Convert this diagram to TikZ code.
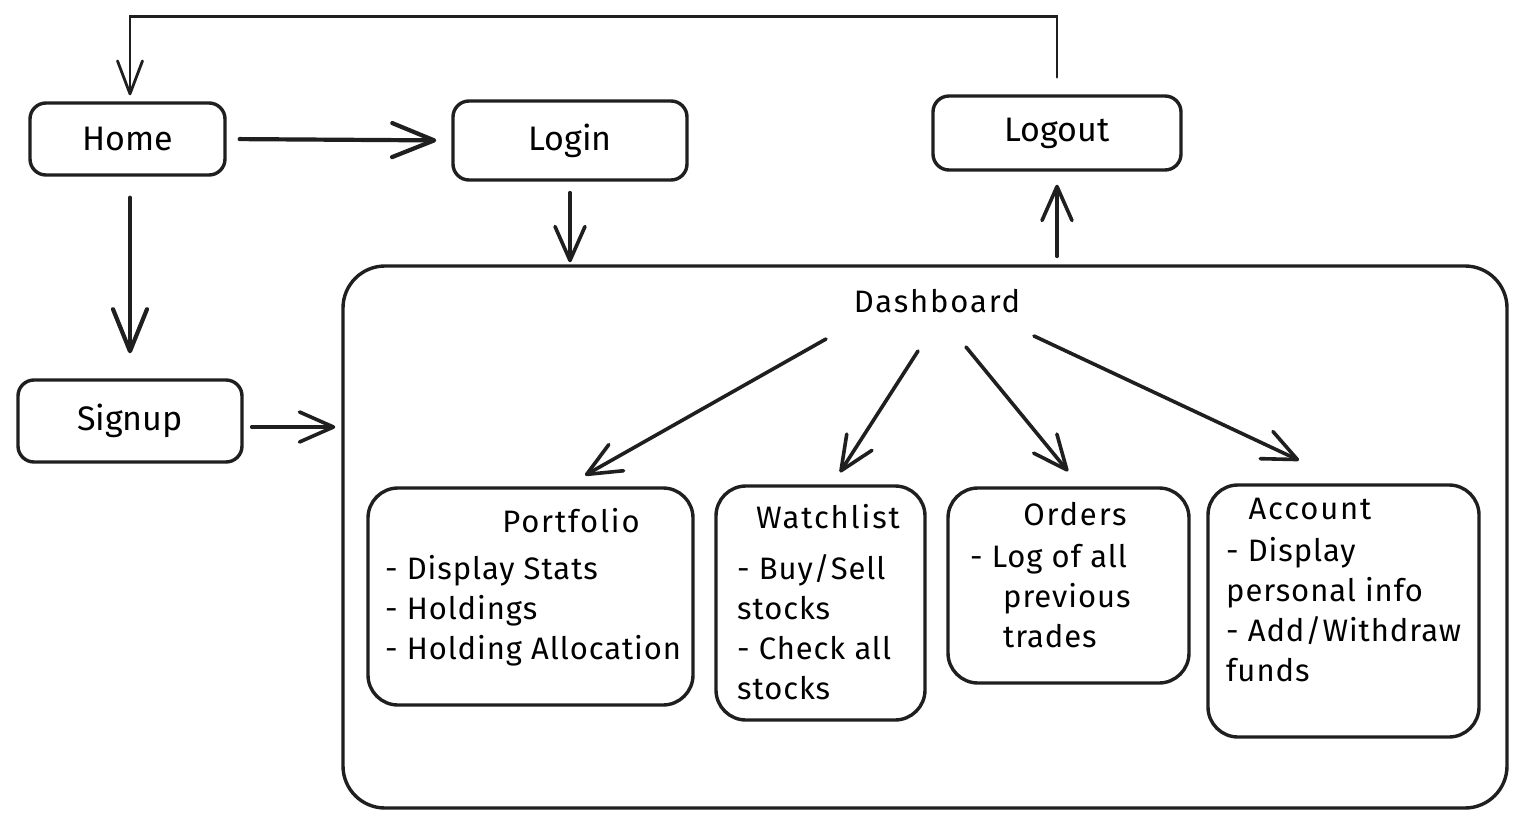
\documentclass[tikz,border=0pt]{standalone}
\usepackage{fontspec}
\setmainfont{Fira Sans}
\newfontfamily\widefont{Fira Sans}[LetterSpace=6]
\newfontfamily\bodyfont{Fira Sans}[LetterSpace=3]
\usetikzlibrary{arrows.meta,calc}
\begin{document}
\begin{tikzpicture}[x=1pt,y=-1pt,
  ink/.style={draw=black!88},
  box/.style={ink, line width=3.4pt, rounded corners=16pt, inner sep=0pt,
    font=\fontsize{34}{40}\selectfont},
  subbox/.style={ink, line width=3.4pt, rounded corners=30pt, inner sep=0pt},
  bigbox/.style={ink, line width=3.4pt, rounded corners=42pt, inner sep=0pt},
  title/.style={inner sep=0pt, font=\widefont\fontsize{31}{36}\selectfont},
  body/.style={inner sep=0pt, align=left, anchor=west, font=\bodyfont\fontsize{31}{40}\selectfont},
  arr/.style={ink, line width=4.2pt, line cap=round,
    -{Straight Barb[length=42pt,width=34pt,line width=4.2pt,round]}},
  sarr/.style={ink, line width=3.6pt, line cap=round,
    -{Straight Barb[length=34pt,width=30pt,line width=3.6pt,round]}},
  thin/.style={ink, line width=2.8pt, line cap=round,
    -{Straight Barb[length=33pt,width=25pt,line width=2.8pt,round]}}]
\useasboundingbox (0,0) rectangle (1526,827);
\fill[white] (0,0) rectangle (1526,827);

% top-level nodes
\node[box, minimum width=195pt, minimum height=72pt] (home) at (127.5,139) {Home};
\node[box, minimum width=234pt, minimum height=79pt] (login) at (570,140.5) {Login};
\node[box, minimum width=248pt, minimum height=74pt] (logout) at (1057,133) {Logout};
\node[box, minimum width=224pt, minimum height=82pt] (signup) at (130,421) {Signup};

% dashboard
\node[bigbox, minimum width=1164pt, minimum height=542pt] (dash) at (925,537) {};
\node[title] (dashlabel) at (937,301) {Dashboard};

% sub boxes
\node[subbox, minimum width=325pt, minimum height=217pt] (port) at (530.5,596.5) {};
\node[subbox, minimum width=209pt, minimum height=234pt] (watch) at (820.5,603) {};
\node[subbox, minimum width=241pt, minimum height=195pt] (orders) at (1068.5,585.5) {};
\node[subbox, minimum width=271pt, minimum height=252pt] (account) at (1343.5,611) {};

\node[title] (porttitle) at (571,521) {Portfolio};
\node[title] (watchtitle) at (828,517) {Watchlist};
\node[title] (orderstitle) at (1075,514) {Orders};
\node[title] (accounttitle) at (1310,509) {Account};

\node[body] (portbody) at (385,611) {- Display Stats\\- Holdings\\- Holding Allocation};
\node[body] (watchbody) at (737,627) {- Buy/Sell\\stocks\\- Check all\\stocks};
\node[body] (ordersbody) at (970,596) {- Log of all\\\hspace*{33pt}previous\\\hspace*{33pt}trades};
\node[body] (accountbody) at (1226,610) {- Display\\personal info\\- Add/Withdraw\\funds};

% connectors
\draw[arr, shorten <=13pt, shorten >=15pt] (home.east) -- (login.west);
\draw[arr, shorten <=21pt, shorten >=25pt] ([xshift=2.5pt]home.south) -- ([xshift=0pt]signup.north);
\draw[sarr, shorten <=11pt, shorten >=2pt] (login.south) -- (login.south |- dash.north);
\draw[sarr, shorten <=8pt, shorten >=6pt] ([yshift=-6pt]signup.east) -- ([yshift=-6pt]signup.east -| dash.west);
\draw[sarr, shorten <=8pt, shorten >=13pt] (dash.north -| logout.south) -- (logout.south);
\draw[thin, shorten <=17pt, shorten >=6pt] (logout.north) -- ++(0,-78) -| ([xshift=2.5pt]home.north);

\draw[sarr] ($(dashlabel.center)+(-111,38)$) -- ($(port.north)+(54.5,-11)$);
\draw[sarr] ($(dashlabel.center)+(-19,50)$) -- ($(watch.north)+(19.5,-12)$);
\draw[sarr] ($(dashlabel.center)+(29,46)$) -- ($(orders.north)+(-0.5,-15)$);
\draw[sarr] ($(dashlabel.center)+(97,35)$) -- ($(account.north)+(-44.5,-23)$);
\end{tikzpicture}
\end{document}
